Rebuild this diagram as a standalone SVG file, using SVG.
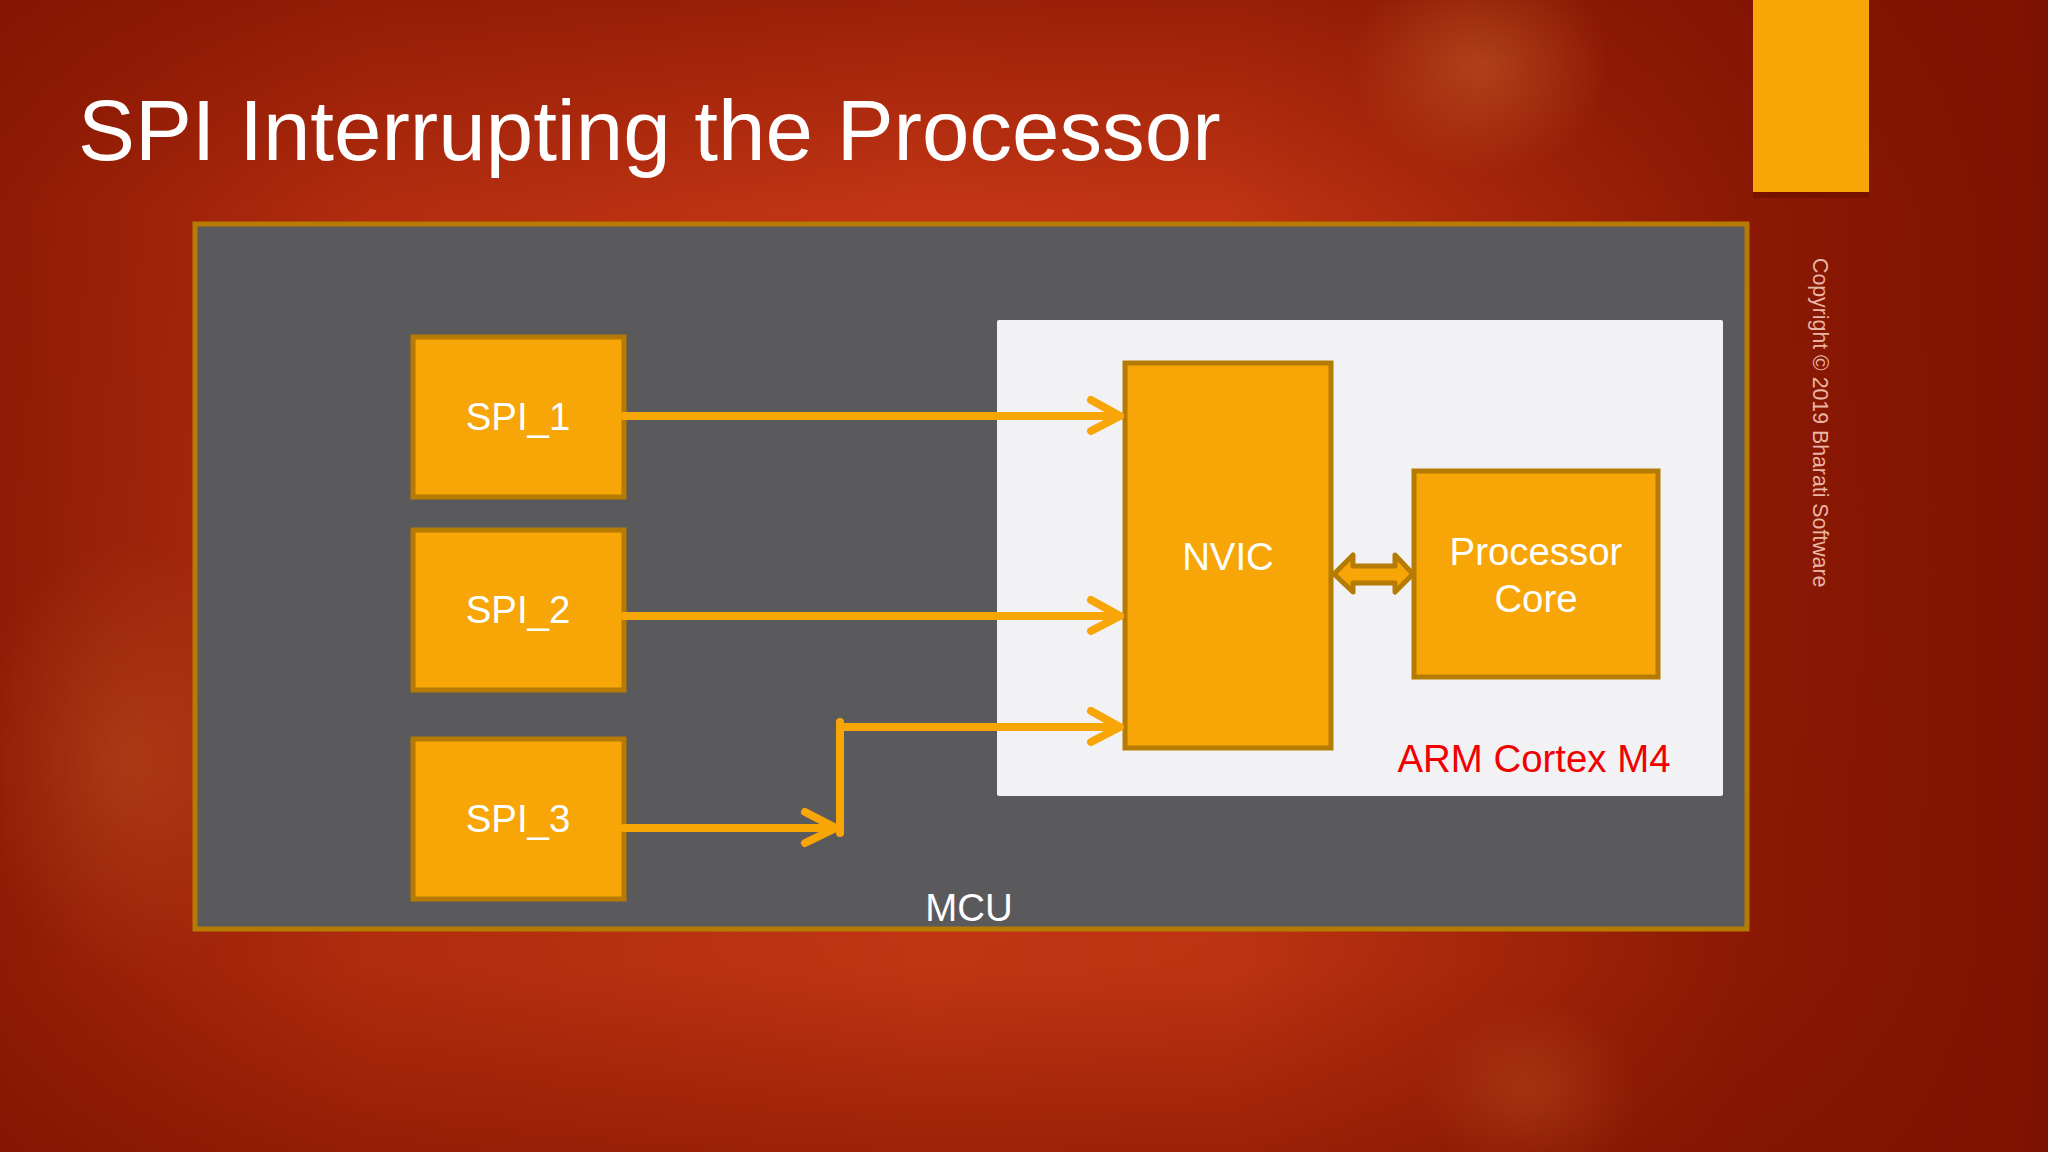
<svg xmlns="http://www.w3.org/2000/svg" width="2048" height="1152" viewBox="0 0 2048 1152">
<defs>
<linearGradient id="bgv" x1="0" y1="0" x2="0" y2="1">
<stop offset="0" stop-color="#9a2008"/><stop offset="0.18" stop-color="#c23514"/><stop offset="0.5" stop-color="#c23a18"/><stop offset="0.84" stop-color="#c03512"/><stop offset="1" stop-color="#9c2208"/>
</linearGradient>
<linearGradient id="bgh" x1="0" y1="0" x2="1" y2="0">
<stop offset="0" stop-color="#7e1200" stop-opacity="0.75"/><stop offset="0.18" stop-color="#7e1200" stop-opacity="0.25"/><stop offset="0.45" stop-color="#7e1200" stop-opacity="0"/><stop offset="0.6" stop-color="#7e1200" stop-opacity="0.05"/><stop offset="0.85" stop-color="#7e1200" stop-opacity="0.8"/><stop offset="1" stop-color="#7e1200" stop-opacity="1"/>
</linearGradient>
<radialGradient id="spot"><stop offset="0" stop-color="#d06a30" stop-opacity="0.45"/><stop offset="1" stop-color="#d06a30" stop-opacity="0"/></radialGradient>
<style>
.box{fill:#f7a507;stroke:#b57b03;stroke-width:5}
.t{font-family:"Liberation Sans",Arial,sans-serif;fill:#fff;font-size:40px;text-anchor:middle}
.wire{fill:none;stroke:#f7a507;stroke-width:8;stroke-linecap:round;stroke-linejoin:round}
</style>
</defs>
<rect width="2048" height="1152" fill="url(#bgv)"/>
<rect width="2048" height="1152" fill="url(#bgh)"/>
<ellipse cx="1480" cy="65" rx="130" ry="110" fill="url(#spot)"/>
<ellipse cx="1530" cy="1090" rx="110" ry="90" fill="url(#spot)" opacity="0.6"/>
<ellipse cx="130" cy="760" rx="160" ry="220" fill="url(#spot)" opacity="0.7"/>
<g id="accent">
<rect x="1753" y="4" width="116" height="194" fill="#6f0e00" opacity="0.7"/>
<rect x="1753" y="0" width="116" height="192" fill="#f7a507"/>
</g>
<text id="title" x="78" y="160" font-family="Liberation Sans, Arial, sans-serif" font-size="85.3" fill="#fff">SPI Interrupting the Processor</text>
<text id="copyright" transform="translate(1813,258) rotate(90)" font-family="Liberation Sans, Arial, sans-serif" font-size="21.3" fill="#eab6a4">Copyright © 2019 Bharati Software</text>
<g id="mcu"><rect x="195" y="224" width="1552" height="705" fill="#5a5a5c" stroke="#b57b03" stroke-width="5"/>
<text class="t" x="969" y="921" style="font-size:38.4px">MCU</text></g>
<g id="cortex"><rect x="997" y="320" width="726" height="476" rx="2" fill="#f2f2f4"/>
<text x="1534" y="772" text-anchor="middle" font-family="Liberation Sans, Arial, sans-serif" font-size="38.4" fill="#f00000">ARM Cortex M4</text></g>
<g id="spi1"><rect class="box" x="413" y="337" width="211" height="160"/><text class="t" x="518" y="430" style="font-size:38.4px">SPI_1</text></g>
<g id="spi2"><rect class="box" x="413" y="530" width="211" height="160"/><text class="t" x="518" y="623" style="font-size:38.4px">SPI_2</text></g>
<g id="spi3"><rect class="box" x="413" y="739" width="211" height="160"/><text class="t" x="518" y="832" style="font-size:38.4px">SPI_3</text></g>
<g id="nvic"><rect class="box" x="1125" y="363" width="206" height="385"/><text class="t" x="1228" y="570" style="font-size:38.4px">NVIC</text></g>
<g id="core"><rect class="box" x="1414" y="471" width="244" height="206"/><text class="t" x="1536" y="565" style="font-size:38.4px">Processor</text><text class="t" x="1536" y="612" style="font-size:38.4px">Core</text></g>
<g id="connectors">
<path class="wire" d="M624 416H1120M1091 400L1120 416L1091 431"/>
<path class="wire" d="M624 616H1120M1091 600L1120 616L1091 631"/>
<path class="wire" d="M624 828H836M805 812L836 828L805 843"/>
<path class="wire" d="M840 833V722M840 727H1120M1091 711L1120 727L1091 742"/>
<polygon points="1334,574 1353,555 1353,566 1395,566 1395,555 1413,574 1395,592 1395,583 1353,583 1353,592" fill="#f7a507" stroke="#b57b03" stroke-width="5" stroke-linejoin="round"/>
</g>
</svg>
